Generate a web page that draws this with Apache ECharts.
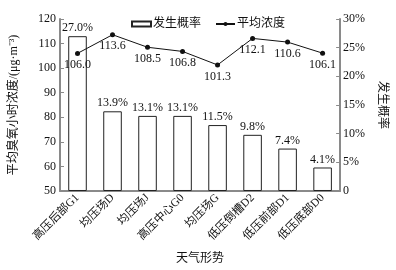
<!DOCTYPE html>
<html><head><meta charset="utf-8">
<script src="https://cdn.jsdelivr.net/npm/echarts@6/dist/echarts.min.js"></script>
<style>html,body{margin:0;padding:0;background:#fff}#c{width:396px;height:270px}</style>
</head><body><div id="c"></div>
<script>
const categories = ['高压后部G1','均压场D','均压场J','高压中心G0','均压场G','低压倒槽D2','低压前部D1','低压底部D0'];
const probability = [27.0, 13.9, 13.1, 13.1, 11.5, 9.8, 7.4, 4.1];
const concentration = [106.0, 113.6, 108.5, 106.8, 101.3, 112.1, 110.6, 106.1];
const leftTicks = {min: 50, max: 120, interval: 10};
const rightTicks = {min: 0, max: 30, interval: 5};

const FF = '"Liberation Serif","Noto Sans CJK SC",serif';
const axisGray = '#8a8a8a';
const chart = echarts.init(document.getElementById('c'));
chart.setOption({
  animation: false,
  textStyle: {fontFamily: FF, color: '#111'},
  grid: {left: 57, right: 54, top: 19, bottom: 75},
  legend: {
    top: 13, left: 126, itemGap: 14, itemWidth: 19, itemHeight: 5,
    textStyle: {fontFamily: FF, fontSize: 12, color: '#111', padding: [0, 0, 0, -3]},
    data: [
      {name: '发生概率', icon: 'rect'},
      {name: '平均浓度'}
    ]
  },
  xAxis: {
    type: 'category', data: categories,
    name: '天气形势', nameLocation: 'middle', nameGap: 62,
    nameTextStyle: {fontFamily: FF, fontSize: 12, color: '#111'},
    axisLine: {lineStyle: {color: axisGray, width: 2}},
    axisTick: {show: false},
    axisLabel: {rotate: 45, fontSize: 11.5, color: '#111', fontFamily: FF, margin: 5, interval: 0}
  },
  yAxis: [{
    type: 'value', min: leftTicks.min, max: leftTicks.max, interval: leftTicks.interval,
    name: '平均臭氧小时浓度/(μg·m⁻³)', nameLocation: 'middle', nameGap: 40, nameRotate: 90,
    nameTextStyle: {fontFamily: FF, fontSize: 12, color: '#111'},
    axisLine: {show: true, lineStyle: {color: axisGray, width: 2}},
    axisTick: {show: true, inside: true, length: 4, lineStyle: {color: axisGray}},
    axisLabel: {fontSize: 12, color: '#111', fontFamily: FF, margin: 4},
    splitLine: {show: false}
  }, {
    type: 'value', min: rightTicks.min, max: rightTicks.max, interval: rightTicks.interval,
    name: '发生概率', nameLocation: 'middle', nameGap: 33, nameRotate: -90,
    nameTextStyle: {fontFamily: FF, fontSize: 12, color: '#111'},
    axisLine: {show: true, lineStyle: {color: axisGray, width: 2}},
    axisTick: {show: true, inside: true, length: 4, lineStyle: {color: axisGray}},
    axisLabel: {fontSize: 12, color: '#111', fontFamily: FF, margin: 3,
      formatter: v => v === 0 ? '0' : v + '%'},
    splitLine: {show: false}
  }],
  series: [{
    name: '发生概率', type: 'bar', yAxisIndex: 1, data: probability, barWidth: '53%',
    itemStyle: {color: '#fff', borderColor: '#222', borderWidth: 1},
    label: {show: true, position: 'top', distance: 2, fontSize: 12, color: '#111', fontFamily: FF,
      formatter: p => p.value.toFixed(1) + '%'}
  }, {
    name: '平均浓度', type: 'line', yAxisIndex: 0, data: concentration,
    symbol: 'circle', symbolSize: 5,
    lineStyle: {color: '#111', width: 1}, itemStyle: {color: '#111'},
    label: {show: true, position: 'bottom', distance: 3, fontSize: 12, color: '#111', fontFamily: FF,
      formatter: p => p.value.toFixed(1)},
    z: 5
  }]
});
</script></body></html>
